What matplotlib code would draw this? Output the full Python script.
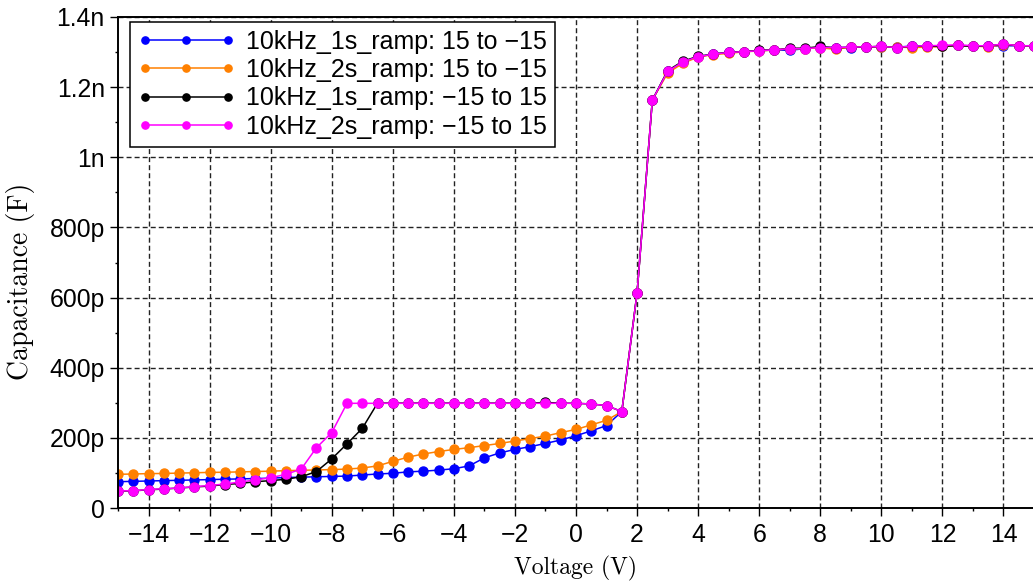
import numpy as np
import matplotlib
matplotlib.use('Agg')
import matplotlib.pyplot as plt
from matplotlib.ticker import MultipleLocator

plt.rcParams['font.family'] = ['Liberation Sans', 'DejaVu Sans']
plt.rcParams['axes.unicode_minus'] = True

# sweep voltages (V), 0.5 V step
volt = np.arange(-15, 15.01, 0.5)

# capacitance in pF
c_1s_down = [75, 76, 77, 78, 79, 80, 81, 82, 83, 84,
             85, 87, 88, 89, 90, 91, 94, 97, 99, 103,
             105, 108, 112, 120, 143, 157, 167, 175, 184, 194,
             206, 220, 235, 275,
             613, 1163, 1245, 1272, 1287, 1294, 1299, 1301, 1304, 1306,
             1305, 1310, 1313, 1313, 1313, 1315, 1314, 1314, 1317, 1317,
             1316, 1319, 1317, 1317, 1318, 1318, 1318]

c_2s_down = [96, 97, 98, 98.5, 99.5, 100.5, 101.5, 102, 103, 104,
             105, 106.5, 107.5, 108.5, 109.5, 111, 114, 120, 133, 145,
             154, 161, 167, 172, 178, 184, 191, 198, 205, 215,
             224, 237, 250, 275,
             613, 1163, 1240, 1268, 1286, 1293, 1296, 1301, 1303, 1306,
             1309, 1310, 1312, 1308, 1314, 1315, 1315, 1314, 1313, 1314,
             1316, 1319, 1317, 1315, 1321, 1318, 1318]

c_1s_up = [48, 49, 52, 54, 57, 60, 62.5, 67, 70, 75,
           78, 82, 89, 104, 140, 183, 227, 299, 299, 299,
           299, 299, 299, 299, 299, 299, 299, 299, 301, 299,
           298.5, 296.5, 292, 275,
           613, 1163, 1247, 1274, 1288, 1294, 1300, 1301, 1305, 1306,
           1311, 1311, 1316, 1312, 1314, 1314, 1317, 1312, 1317, 1317,
           1316, 1319, 1316, 1318, 1322, 1318, 1318]

c_2s_up = [48.5, 49.5, 52.5, 55, 57, 61, 64, 68.5, 74, 80,
           86.5, 96, 111, 172, 215, 298.5, 298.5, 298.5, 298.5, 298.5,
           298.5, 298.5, 298.5, 298.5, 298.5, 298.5, 298.5, 298.5, 298.5, 298.5,
           298.5, 296.5, 292, 275,
           613, 1163, 1245, 1272, 1287, 1294, 1299, 1301, 1304, 1306,
           1310, 1310, 1313, 1313, 1314, 1315, 1316, 1313, 1317, 1318,
           1319, 1321, 1318, 1318, 1323, 1318, 1318]

series = [
    (c_1s_down, '#0000ff', '10kHz_1s_ramp: 15 to \u221215'),
    (c_2s_down, '#ff8000', '10kHz_2s_ramp: 15 to \u221215'),
    (c_1s_up, '#000000', '10kHz_1s_ramp: \u221215 to 15'),
    (c_2s_up, '#ff00ff', '10kHz_2s_ramp: \u221215 to 15'),
]

fig = plt.figure(figsize=(10.33, 5.84), dpi=100)
ax = fig.add_axes([118 / 1033, 1 - 508 / 584, 916 / 1033, 491 / 584])

for vals, col, lab in series:
    ax.plot(volt, np.array(vals) * 1e-12, color=col, lw=1.1, marker='o',
            ms=6.5, mec=col, mfc=col, label=lab)

ax.set_xlim(-15, 15)
ax.set_ylim(0, 1.4e-9)

ax.xaxis.set_major_locator(MultipleLocator(2))
ax.xaxis.set_minor_locator(MultipleLocator(1))
yt = np.arange(0, 1.41e-9, 0.2e-9)
ax.set_yticks(yt)
ax.set_yticklabels(['0', '200p', '400p', '600p', '800p', '1n', '1.2n', '1.4n'])
ax.yaxis.set_minor_locator(MultipleLocator(0.1e-9))

ax.tick_params(which='major', direction='out', length=6, width=1.0,
               labelsize=17.8, pad=3.5)
ax.tick_params(which='minor', direction='out', length=2.5, width=1.0)
ax.tick_params(axis='x', which='major', pad=5)

ax.grid(True, which='major', color='#222222', lw=1.0,
        linestyle=(0, (3.6, 2.2)))

for s in ['left', 'bottom', 'top']:
    ax.spines[s].set_linewidth(1.4)
ax.spines['right'].set_visible(False)

ax.set_xlabel('Voltage (V)', fontfamily='cmr10', fontsize=17)
ax.set_ylabel('Capacitance (F)', fontfamily='cmr10', fontsize=20)
ax.xaxis.set_label_coords(0.5, -0.098)
ax.yaxis.set_label_coords(-0.0906, 0.462)

leg = ax.legend(loc='upper left', bbox_to_anchor=(12 / 916, (508 - 22) / 491),
                borderaxespad=0, fontsize=18, numpoints=3, markerscale=0.8,
                handlelength=3.9, handletextpad=0.45, labelspacing=0.18,
                borderpad=0.3, fancybox=False, framealpha=1,
                edgecolor='black')
leg.get_frame().set_linewidth(1.1)

plt.savefig('out.png', dpi=100)
